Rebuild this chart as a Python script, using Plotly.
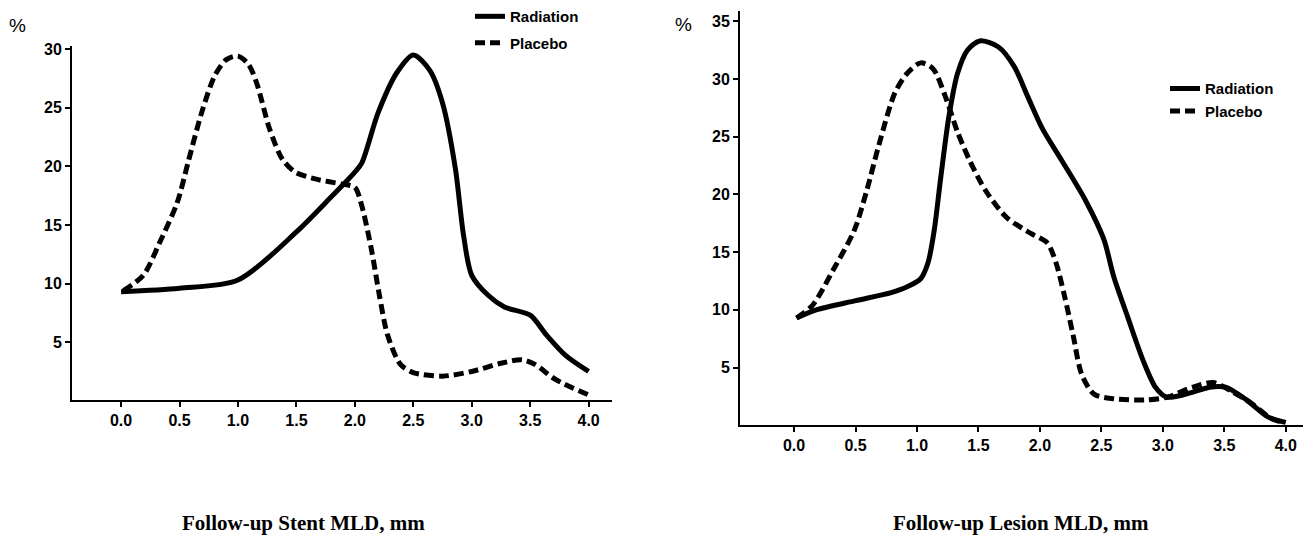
import plotly.graph_objects as go

# ---- data ----
stent_rad_x = [0.0, 0.5, 1.0, 1.5, 1.75, 2.0, 2.06, 2.2, 2.36, 2.5, 2.64, 2.75, 2.86, 2.93, 3.0, 3.14, 3.28, 3.5, 3.64, 3.8, 4.0]
stent_rad_y = [9.3, 9.6, 10.3, 14.4, 16.9, 19.5, 20.3, 24.6, 28.0, 29.5, 28.2, 25.4, 19.8, 14.1, 10.7, 9.0, 8.0, 7.3, 5.6, 3.9, 2.5]

stent_pla_x = [0.02, 0.19, 0.33, 0.48, 0.58, 0.69, 0.8, 0.9, 1.0, 1.09, 1.16, 1.27, 1.38, 1.49, 1.67, 1.88, 2.0, 2.06, 2.14, 2.21, 2.28, 2.39, 2.5, 2.75, 3.0, 3.25, 3.43, 3.54, 3.72, 4.0]
stent_pla_y = [9.4, 10.7, 13.5, 16.9, 20.6, 24.6, 27.7, 29.1, 29.4, 28.7, 27.1, 23.2, 20.6, 19.5, 18.9, 18.5, 18.2, 16.6, 13.0, 9.0, 5.6, 3.1, 2.4, 2.1, 2.5, 3.2, 3.5, 3.1, 1.8, 0.5]

lesion_rad_x = [0.02, 0.18, 0.5, 0.79, 0.92, 1.03, 1.09, 1.14, 1.19, 1.26, 1.33, 1.41, 1.51, 1.66, 1.79, 1.9, 2.02, 2.18, 2.37, 2.52, 2.6, 2.71, 2.84, 2.94, 3.03, 3.19, 3.38, 3.51, 3.68, 3.85, 4.0]
lesion_rad_y = [9.3, 10.0, 10.8, 11.5, 12.0, 12.7, 14.1, 16.9, 21.2, 26.8, 30.5, 32.5, 33.3, 32.8, 31.1, 28.5, 25.7, 22.9, 19.5, 16.1, 12.9, 9.5, 5.6, 3.3, 2.45, 2.7, 3.3, 3.3, 2.2, 0.75, 0.25]

lesion_pla_x = [0.02, 0.15, 0.32, 0.49, 0.59, 0.69, 0.82, 0.92, 1.03, 1.13, 1.23, 1.33, 1.43, 1.56, 1.73, 1.93, 2.06, 2.13, 2.2, 2.27, 2.34, 2.44, 2.6, 2.87, 3.04, 3.24, 3.41, 3.55, 3.72, 3.88, 3.98]
lesion_pla_y = [9.3, 10.4, 13.5, 16.9, 20.3, 24.3, 28.8, 30.5, 31.4, 30.9, 28.5, 25.4, 22.9, 20.3, 18.0, 16.6, 15.8, 14.1, 11.2, 7.8, 4.4, 2.7, 2.3, 2.2, 2.45, 3.3, 3.7, 3.0, 1.9, 0.6, 0.25]

x_ticks = [0.0, 0.5, 1.0, 1.5, 2.0, 2.5, 3.0, 3.5, 4.0]
x_tick_labels = ["0.0", "0.5", "1.0", "1.5", "2.0", "2.5", "3.0", "3.5", "4.0"]
left_y_ticks = [5, 10, 15, 20, 25, 30]
right_y_ticks = [5, 10, 15, 20, 25, 30, 35]
series_names = ["Radiation", "Placebo"]
titles = ["Follow-up Stent MLD, mm", "Follow-up Lesion MLD, mm"]

# ---- figure ----
W, H = 1304, 541
def px(x):
    return x / W
def py(y):
    return 1 - y / H

TICKFONT = dict(family="Liberation Sans, Arial, sans-serif", size=16, color="black", weight="bold")
LEGFONT = dict(family="Liberation Sans, Arial, sans-serif", size=15, color="black", weight="bold")
DASH = "10px,5px"
LW = 5

fig = go.Figure()

fig.add_trace(go.Scatter(x=stent_rad_x, y=stent_rad_y, mode="lines", name=series_names[0],
                         line=dict(color="black", width=LW, shape="spline", smoothing=0.8),
                         xaxis="x", yaxis="y", legend="legend", legendgroup="a"))
fig.add_trace(go.Scatter(x=stent_pla_x, y=stent_pla_y, mode="lines", name=series_names[1],
                         line=dict(color="black", width=LW, dash=DASH, shape="spline", smoothing=0.8),
                         xaxis="x", yaxis="y", legend="legend", legendgroup="b"))
fig.add_trace(go.Scatter(x=lesion_rad_x, y=lesion_rad_y, mode="lines", name=series_names[0],
                         line=dict(color="black", width=LW, shape="spline", smoothing=0.8),
                         xaxis="x2", yaxis="y2", legend="legend2", legendgroup="c"))
fig.add_trace(go.Scatter(x=lesion_pla_x, y=lesion_pla_y, mode="lines", name=series_names[1],
                         line=dict(color="black", width=LW, dash=DASH, shape="spline", smoothing=0.8),
                         xaxis="x2", yaxis="y2", legend="legend2", legendgroup="d"))

xcommon = dict(showgrid=False, zeroline=False, showline=True, linecolor="black", linewidth=2,
               ticks="outside", ticklen=5, tickwidth=1.5, tickcolor="black",
               tickvals=x_ticks, ticktext=x_tick_labels, tickfont=TICKFONT)
ycommon = dict(showgrid=False, zeroline=False, showline=True, linecolor="black", linewidth=2,
               ticks="outside", ticklen=5, tickwidth=1.5, tickcolor="black", tickfont=TICKFONT)

fig.update_layout(
    width=W, height=H,
    margin=dict(l=0, r=0, t=0, b=0),
    paper_bgcolor="white", plot_bgcolor="white",
    xaxis=dict(domain=[px(72), px(612)], range=[-0.42, 4.2], anchor="y", **xcommon),
    yaxis=dict(domain=[py(398), py(40)], range=[0.1, 30.3], anchor="x",
               tickvals=left_y_ticks, **ycommon),
    xaxis2=dict(domain=[px(740), px(1303)], range=[-0.44, 4.14], anchor="y2", **xcommon),
    yaxis2=dict(domain=[py(424), py(5)], range=[0, 35.9], anchor="x2",
                tickvals=right_y_ticks, **ycommon),
    legend=dict(x=px(470), y=py(-6), xanchor="left", yanchor="top", font=LEGFONT,
                bgcolor="rgba(0,0,0,0)", tracegroupgap=4, itemwidth=30),
    legend2=dict(x=px(1165), y=py(67), xanchor="left", yanchor="top", font=LEGFONT,
                 bgcolor="rgba(0,0,0,0)", tracegroupgap=0, itemwidth=30),
    showlegend=True,
)

TITLEFONT = dict(family="Liberation Serif, Times New Roman, serif", size=21, color="black", weight="bold")
fig.add_annotation(text=titles[0], x=px(303), y=py(523), xref="paper", yref="paper",
                   showarrow=False, font=TITLEFONT, xanchor="center", yanchor="middle")
fig.add_annotation(text=titles[1], x=px(1021), y=py(523), xref="paper", yref="paper",
                   showarrow=False, font=TITLEFONT, xanchor="center", yanchor="middle")

PCTFONT = dict(family="Liberation Sans, Arial, sans-serif", size=19, color="black")
fig.add_annotation(text="%", x=px(17), y=py(20), xref="paper", yref="paper",
                   showarrow=False, font=PCTFONT, xanchor="center", yanchor="middle")
fig.add_annotation(text="%", x=px(683), y=py(19), xref="paper", yref="paper",
                   showarrow=False, font=PCTFONT, xanchor="center", yanchor="middle")

fig.write_html("out.html", config={"displayModeBar": False},
               post_script="document.body.style.margin='0';document.body.style.overflow='hidden';")
